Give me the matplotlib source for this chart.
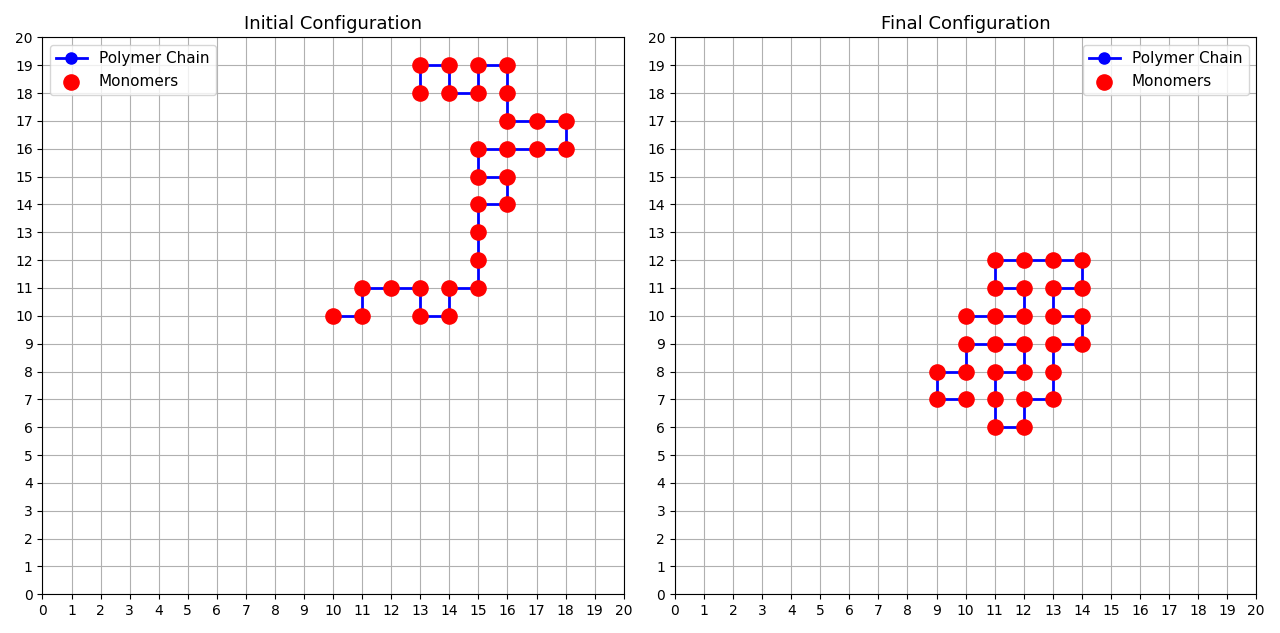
import matplotlib
matplotlib.use("Agg")
import matplotlib.pyplot as plt

init_x = [10,11,11,12,13,13,14,14,15,15,15,15,16,16,15,15,16,17,18,18,17,16,16,16,15,15,14,14,13,13]
init_y = [10,10,11,11,11,10,10,11,11,12,13,14,14,15,15,16,16,16,16,17,17,17,18,19,19,18,18,19,19,18]
final_x = [10,11,12,12,11,11,12,13,14,14,13,13,14,14,13,13,13,12,12,11,11,11,12,12,11,10,10,9,9,10]
final_y = [10,10,10,11,11,12,12,12,12,11,11,10,10,9,9,8,7,7,6,6,7,8,8,9,9,9,8,8,7,7]

fig, axes = plt.subplots(1, 2, figsize=(12.8, 6.33), dpi=100)
for ax, xs, ys, title, loc in [(axes[0], init_x, init_y, "Initial Configuration", "upper left"),
                               (axes[1], final_x, final_y, "Final Configuration", "upper right")]:
    ax.plot(xs, ys, 'o-', color='blue', label='Polymer Chain', markersize=8, linewidth=2)
    ax.scatter(xs, ys, color='red', s=120, zorder=3, label='Monomers')
    ax.set_xlim(0, 20)
    ax.set_ylim(0, 20)
    ax.set_xticks(range(0, 21))
    ax.set_yticks(range(0, 21))
    ax.grid(True)
    ax.set_title(title, fontsize=13)
    ax.legend(loc=loc, fontsize=11)
plt.tight_layout()
fig.savefig("out.png", dpi=100)
